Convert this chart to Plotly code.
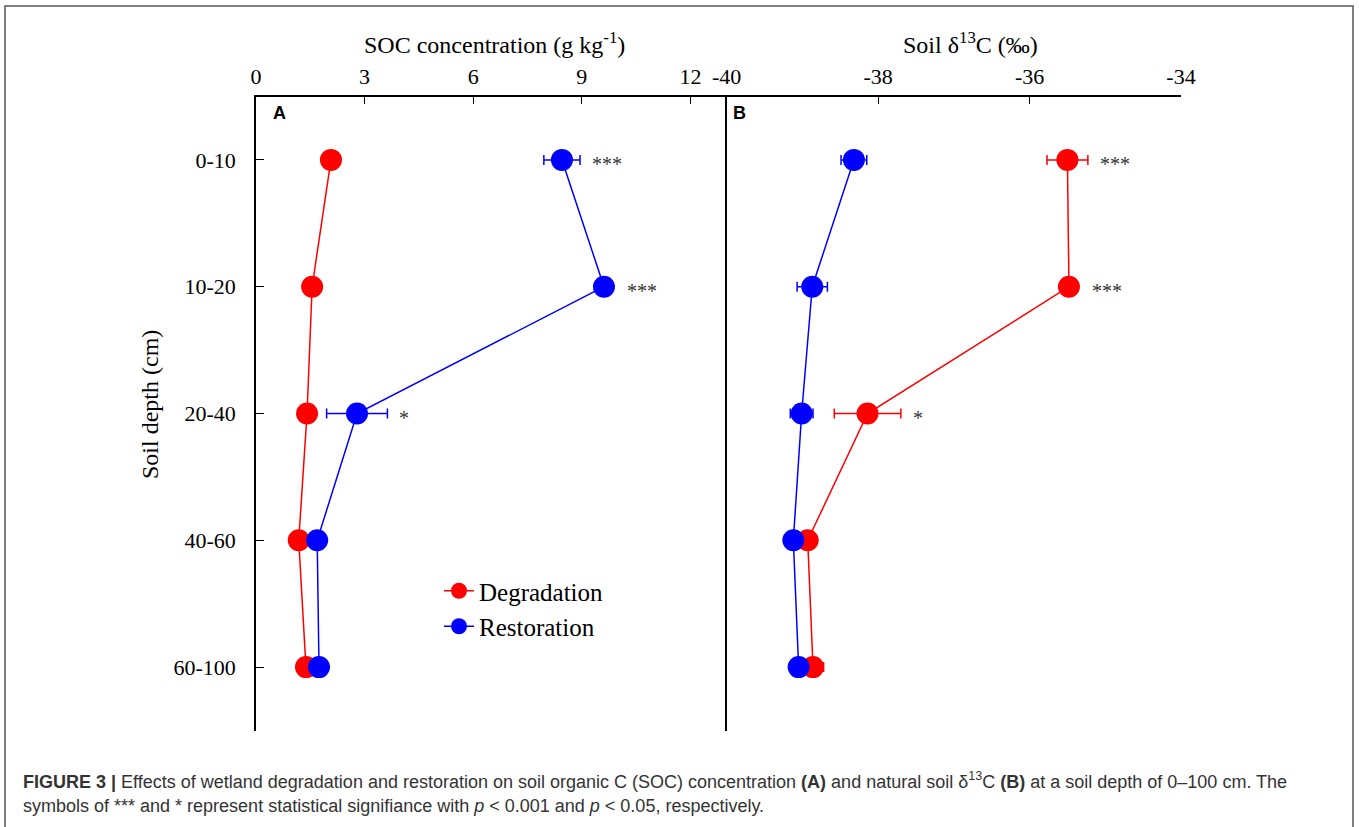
import plotly.graph_objects as go

depths = ["0-10", "10-20", "20-40", "40-60", "60-100"]

soc_deg = [2.07, 1.55, 1.41, 1.18, 1.38]
soc_deg_err = [0.05, 0.05, 0.05, 0.05, 0.05]
soc_res = [8.45, 9.61, 2.79, 1.69, 1.74]
soc_res_err = [0.50, 0.10, 0.84, 0.10, 0.15]
soc_sig = ["***", "***", "*", "", ""]

d13_deg = [-35.50, -35.48, -38.14, -38.93, -38.86]
d13_deg_err = [0.27, 0.05, 0.44, 0.08, 0.14]
d13_res = [-38.32, -38.87, -39.01, -39.12, -39.05]
d13_res_err = [0.17, 0.20, 0.15, 0.05, 0.05]
d13_sig = ["***", "***", "*", "", ""]

soc_ticks = [0, 3, 6, 9, 12]
soc_ticklabels = ["0", "3", "6", "9", "12"]
d13_ticks = [-40, -38, -36, -34]
d13_ticklabels = ["-40", "-38", "-36", "-34"]

RED = "#ff0000"
BLUE = "#0000ff"
W, H = 1359, 827
SERIF = "Liberation Serif, Times New Roman, serif"
SANS = "Liberation Sans, Arial, sans-serif"

def px(x):
    return x / W

def py(y):
    return 1 - y / H

xA = [px(256), px(726.7)]
xB = [px(726.7), px(1181)]
ydom = [py(730.5), py(96.5)]
rangeA = [0, 13]
rangeB = [-40, -34]
yrange = [4.5, -0.5]

fig = go.Figure()

def add_series(x, err, color, name, xa, ya, show):
    fig.add_trace(go.Scatter(
        x=x, y=depths, mode="lines+markers", name=name,
        xaxis=xa, yaxis=ya, showlegend=show,
        line=dict(color=color, width=1.5),
        marker=dict(color=color, size=22),
        error_x=dict(type="data", array=err, color=color, thickness=1.5, width=5),
    ))

add_series(soc_deg, soc_deg_err, RED, "Degradation", "x", "y", True)
add_series(soc_res, soc_res_err, BLUE, "Restoration", "x", "y", True)
add_series(d13_deg, d13_deg_err, RED, "Degradation", "x2", "y2", False)
add_series(d13_res, d13_res_err, BLUE, "Restoration", "x2", "y2", False)

axfont = dict(family=SERIF, size=22, color="black")

fig.update_layout(
    width=W, height=H,
    margin=dict(l=0, r=0, t=0, b=0, autoexpand=False),
    paper_bgcolor="white", plot_bgcolor="white",
    xaxis=dict(domain=xA, range=rangeA, side="top", anchor="y",
               showline=True, linecolor="black", linewidth=1.5,
               ticks="inside", ticklen=8, tickwidth=1.2, tickcolor="black",
               tickvals=soc_ticks, ticktext=soc_ticklabels, tickfont=axfont,
               ticklabelstandoff=2,
               showgrid=False, zeroline=False),
    xaxis2=dict(domain=xB, range=rangeB, side="top", anchor="y2",
                showline=True, linecolor="black", linewidth=1.5,
                ticks="inside", ticklen=8, tickwidth=1.2, tickcolor="black",
                tickvals=d13_ticks, ticktext=d13_ticklabels, tickfont=axfont,
                ticklabelstandoff=2,
                showgrid=False, zeroline=False),
    yaxis=dict(domain=ydom, range=yrange, type="category",
               categoryorder="array", categoryarray=depths,
               anchor="x", showline=True, linecolor="black", linewidth=1.5,
               ticks="inside", ticklen=8, tickwidth=1.2, tickcolor="black",
               tickfont=dict(family=SERIF, size=22, color="black"),
               ticklabelstandoff=14,
               showgrid=False, zeroline=False),
    yaxis2=dict(domain=ydom, range=yrange, type="category",
                categoryorder="array", categoryarray=depths,
                anchor="x2", showline=True, linecolor="black", linewidth=1.5,
                ticks="", showticklabels=False,
                showgrid=False, zeroline=False),
    legend=dict(x=px(439), y=py(568), xanchor="left", yanchor="top",
                font=dict(family=SERIF, size=25, color="black"),
                bgcolor="rgba(0,0,0,0)", tracegroupgap=0,
                itemsizing="trace"),
)

annotations = []
# axis titles
annotations.append(dict(x=px(494), y=py(43), xref="paper", yref="paper",
                        text="SOC concentration (g kg<sup>-1</sup>)", showarrow=False,
                        font=dict(family=SERIF, size=24, color="black"),
                        xanchor="center", yanchor="middle"))
annotations.append(dict(x=px(971), y=py(43), xref="paper", yref="paper",
                        text="Soil δ<sup>13</sup>C (‰)", showarrow=False,
                        font=dict(family=SERIF, size=24, color="black"),
                        xanchor="center", yanchor="middle"))
annotations.append(dict(x=px(150), y=py(405), xref="paper", yref="paper",
                        text="Soil depth (cm)", showarrow=False, textangle=-90,
                        font=dict(family=SERIF, size=24, color="black"),
                        xanchor="center", yanchor="middle"))
# panel letters
annotations.append(dict(x=px(271), y=py(113), xref="paper", yref="paper",
                        text="<b>A</b>", showarrow=False,
                        font=dict(family=SANS, size=18, color="black"),
                        xanchor="left", yanchor="middle"))
annotations.append(dict(x=px(731), y=py(113), xref="paper", yref="paper",
                        text="<b>B</b>", showarrow=False,
                        font=dict(family=SANS, size=18, color="black"),
                        xanchor="left", yanchor="middle"))

# significance marks
pxA = (xA[1] - xA[0]) * W / (rangeA[1] - rangeA[0])
pxB = (xB[1] - xB[0]) * W / (rangeB[1] - rangeB[0])
for vals, errs, sig, xr, yr, scale in [
    (soc_res, soc_res_err, soc_sig, "x", "y", pxA),
    (d13_deg, d13_deg_err, d13_sig, "x2", "y2", pxB),
]:
    for v, e, s, d in zip(vals, errs, sig, depths):
        if not s:
            continue
        shift = max(e * scale, 11) + 10
        annotations.append(dict(x=v, y=d, xref=xr, yref=yr, text=s,
                                showarrow=False, xanchor="left", yanchor="middle",
                                xshift=shift, yshift=-4,
                                font=dict(family=SERIF, size=20, color="#333333")))

# caption
cap1 = ("<b>FIGURE 3 |</b> Effects of wetland degradation and restoration on soil organic C (SOC) "
        "concentration <b>(A)</b> and natural soil δ<sup>13</sup>C <b>(B)</b> at a soil depth of 0–100 cm. The")
cap2 = ("symbols of *** and * represent statistical signifiance with <i>p</i> &lt; 0.001 and "
        "<i>p</i> &lt; 0.05, respectively.")
annotations.append(dict(x=px(21), y=py(780), xref="paper", yref="paper", text=cap1,
                        showarrow=False, xanchor="left", yanchor="middle",
                        font=dict(family=SANS, size=18, color="#333333")))
annotations.append(dict(x=px(21), y=py(806), xref="paper", yref="paper", text=cap2,
                        showarrow=False, xanchor="left", yanchor="middle",
                        font=dict(family=SANS, size=18, color="#333333")))

fig.update_layout(annotations=annotations)

# outer frame
fig.add_shape(type="rect", xref="paper", yref="paper",
              x0=px(5), x1=px(1353), y0=-0.05, y1=py(6),
              line=dict(color="#555555", width=1.5), fillcolor="rgba(0,0,0,0)")

fig.write_html("out.html", config={"displayModeBar": False},
               post_script="document.body.style.margin='0';")
